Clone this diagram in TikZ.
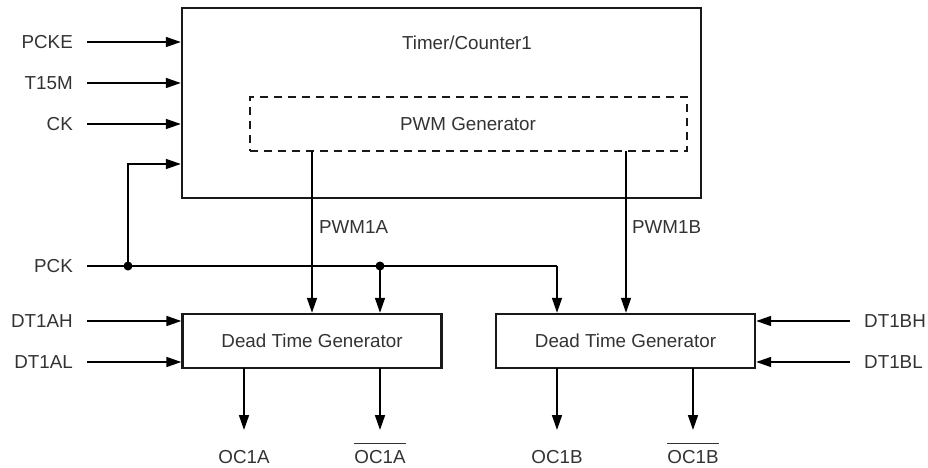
\documentclass[tikz,border=0pt]{standalone}
\usepackage{fontspec}
\setmainfont{Liberation Sans}
\usetikzlibrary{arrows.meta}
\newcommand\ovlbar[1]{\leavevmode\vbox{\hrule height 1.3pt\kern 6.5pt\hbox{#1}}}
\begin{document}
\begin{tikzpicture}[x=1pt,y=-1pt,
  every node/.style={font=\fontsize{18.8}{22}\selectfont, text=black!80},
  blk/.style={draw=black!90, line width=2.4pt, inner sep=0pt},
  dblk/.style={draw=black!90, line width=1.8pt, dash pattern=on 8pt off 6pt, inner sep=0pt},
  lbl/.style={inner sep=0pt, text height=13.3pt, text depth=0pt},
  wire/.style={draw=black, line width=1.6pt},
  arr/.style={wire, -{Triangle[length=15pt,width=10pt]}},
  dot/.style={circle, fill=black, inner sep=0pt, minimum size=9pt}]
\useasboundingbox (0,0) rectangle (928,468);

% blocks
\node[blk, minimum width=519pt, minimum height=190pt] (tc) at (441.5,103) {};
\node[lbl] (tctxt) at (467,43) {Timer/Counter1};
\node[dblk, minimum width=437pt, minimum height=54pt] (pwm) at (468.5,124) {};
\node[lbl] (pwmtxt) at (468,124) {PWM Generator};
\node[blk, minimum width=259pt, minimum height=54pt] (dtga) at (312,341) {};
\node[lbl] at (dtga.center) {Dead Time Generator};
\node[blk, minimum width=259pt, minimum height=54pt] (dtgb) at (625.5,341) {};
\node[lbl] at (dtgb.center) {Dead Time Generator};

% left inputs
\node[lbl, anchor=east] (pcke) at (73,42) {PCKE};
\node[lbl, anchor=east] (t15m) at (73,83) {T15M};
\node[lbl, anchor=east] (ck) at (73,124) {CK};
\node[lbl, anchor=east] (pck) at (73,266) {PCK};
\node[lbl, anchor=east] (dtah) at (73,321) {DT1AH};
\node[lbl, anchor=east] (dtal) at (73,362) {DT1AL};
\node[lbl, anchor=west] (dtbh) at (864,321) {DT1BH};
\node[lbl, anchor=west] (dtbl) at (864,362) {DT1BL};

\coordinate (pckeS) at (87,42);
\coordinate (t15mS) at (87,83);
\coordinate (ckS) at (87,124);
\coordinate (pckS) at (87,266);
\coordinate (dtahS) at (87,321);
\coordinate (dtalS) at (87,362);
\coordinate (dtbhS) at (850,321);
\coordinate (dtblS) at (850,362);

\draw[arr] (pckeS) -- (pckeS -| tc.west);
\draw[arr] (t15mS) -- (t15mS -| tc.west);
\draw[arr] (ckS) -- (ckS -| tc.west);
\draw[arr] (dtahS) -- (dtahS -| dtga.west);
\draw[arr] (dtalS) -- (dtalS -| dtga.west);
\draw[arr] (dtbhS) -- (dtbhS -| dtgb.east);
\draw[arr] (dtblS) -- (dtblS -| dtgb.east);

% PCK distribution
\node[dot] (j1) at (128,266) {};
\node[dot] (j2) at (380,266) {};
\coordinate (fb) at (128,164);
\coordinate (pckE) at (557,266);
\draw[wire] (pckS) -- (j1.center) -- (j2.center) -- (pckE);
\draw[arr] (j1.center) -- (fb) -- (fb -| tc.west);
\draw[arr] (j2.center) -- (j2.center |- dtga.north);
\draw[arr] (pckE) -- (pckE |- dtgb.north);

% PWM outputs
\coordinate (pwma) at (312,151);
\coordinate (pwmb) at (626,151);
\draw[arr] (pwma) -- (pwma |- dtga.north);
\draw[arr] (pwmb) -- (pwmb |- dtgb.north);
\node[lbl, anchor=west] (pwmal) at (319,227) {PWM1A};
\node[lbl, anchor=west] (pwmbl) at (632,227) {PWM1B};

% outputs
\coordinate (oaS) at (244,368);
\coordinate (oanS) at (380,368);
\coordinate (obS) at (557,368);
\coordinate (obnS) at (693,368);
\node[lbl] (oa) at (244,457) {OC1A};
\node[lbl] (oan) at (380,457) {\ovlbar{OC1A}};
\node[lbl] (ob) at (557,457) {OC1B};
\node[lbl] (obn) at (693,457) {\ovlbar{OC1B}};
\draw[arr] (oaS) -- (244,430);
\draw[arr] (oanS) -- (380,430);
\draw[arr] (obS) -- (557,430);
\draw[arr] (obnS) -- (693,430);
\end{tikzpicture}
\end{document}
